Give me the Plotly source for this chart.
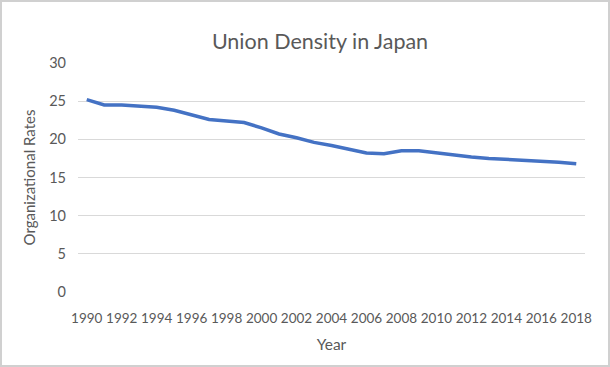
import plotly.graph_objects as go

years = list(range(1990, 2019))
rates = [25.2, 24.5, 24.5, 24.3, 24.2, 23.8, 23.2, 22.6, 22.4, 22.2,
         21.5, 20.7, 20.2, 19.6, 19.2, 18.7, 18.2, 18.1, 18.5, 18.5,
         18.2, 17.9, 17.7, 17.5, 17.4, 17.3, 17.1, 17.0, 16.8]
x_ticks = list(range(1990, 2019, 2))
y_ticks = [0, 5, 10, 15, 20, 25, 30]

W, H = 610, 367
L, R, T, B = 78, 25, 63, 75
pw, ph = W - L - R, H - T - B

fig = go.Figure()
fig.add_trace(go.Scatter(
    x=years, y=rates, mode="lines",
    line=dict(color="#4472C4", width=3.5),
    hoverinfo="x+y", showlegend=False,
))

font_family = "Lato, 'Open Sans', sans-serif"
grey = "#595959"

fig.update_layout(
    width=W, height=H,
    margin=dict(l=L, r=R, t=T, b=B, autoexpand=False),
    paper_bgcolor="white", plot_bgcolor="white",
    font=dict(family=font_family, color=grey, size=14),
    title=dict(text="Union Density in Japan", x=320 / W, xanchor="center",
               y=1 - 41 / H, yanchor="middle",
               font=dict(size=21.5, color=grey, family=font_family)),
    xaxis=dict(
        range=[1989.5, 2018.5], tickmode="array", tickvals=x_ticks,
        ticktext=[str(v) for v in x_ticks], tickangle=0,
        showgrid=False, zeroline=False, showline=False, ticks="",
        tickfont=dict(size=13.5, color=grey), ticklabelstandoff=16,
        title=dict(text="Year", font=dict(size=15.5, color=grey), standoff=14),
        fixedrange=True,
    ),
    yaxis=dict(
        range=[0, 30], tickmode="array", tickvals=y_ticks,
        showgrid=True, gridcolor="#d9d9d9", gridwidth=1,
        zeroline=False, showline=False, ticks="",
        tickfont=dict(size=14.5, color=grey), ticklabelstandoff=11,
        title=dict(text="Organizational Rates", font=dict(size=15, color=grey), standoff=9),
        fixedrange=True,
    ),
)

fig.add_shape(type="rect", xref="paper", yref="paper",
              x0=(1 - L) / pw, x1=(W - 1 - L) / pw,
              y0=-(B - 1) / ph, y1=1 + (T - 1) / ph,
              line=dict(color="#d0d0d0", width=2), layer="below")

fig.write_html("out.html", config={"displayModeBar": False},
               post_script="document.body.style.margin='0';document.body.style.padding='0';")
